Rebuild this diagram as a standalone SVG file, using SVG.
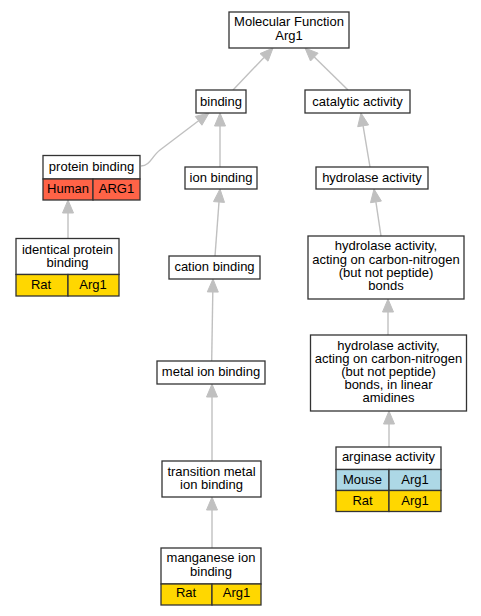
<svg xmlns="http://www.w3.org/2000/svg" width="481" height="616" viewBox="0 0 481 616">
<style>
.b{fill:#fff;stroke:#333;stroke-width:1.3}
.h{fill:#ff6347;stroke:#333;stroke-width:1.3}
.r{fill:#ffd700;stroke:#333;stroke-width:1.3}
.m{fill:#add8e6;stroke:#333;stroke-width:1.3}
text{font-family:"Liberation Sans",Arial,sans-serif;font-size:13px;text-anchor:middle;fill:#000}
.e line,.e path{stroke:#c0c0c0;stroke-width:1.4;fill:none}
.e polygon{fill:#c0c0c0;stroke:#c0c0c0;stroke-width:1}
</style>
<rect width="481" height="616" fill="#fff"/>
<g id="edges" class="e">
<line x1="233" y1="90" x2="264" y2="57.4"/><polygon points="273,48 268,61.2 260,53.6"/>
<line x1="348" y1="90" x2="314.3" y2="57.1"/><polygon points="305,48 318.1,53.2 310.5,61"/>
<path d="M141,166 C150,166 152,156 160,150 L198.6,120.8"/><polygon points="209,113 201.9,125.2 195.3,116.4"/>
<line x1="220" y1="167" x2="220" y2="126"/><polygon points="220,113 214.5,126 225.5,126"/>
<line x1="370" y1="167" x2="363.1" y2="125.8"/><polygon points="361,113 368.6,124.9 357.7,126.7"/>
<line x1="68" y1="238" x2="68" y2="213"/><polygon points="68,200 62.5,213 73.5,213"/>
<line x1="215" y1="256" x2="219" y2="202"/><polygon points="220,189 224.5,202.4 213.5,201.6"/>
<line x1="211.7" y1="361" x2="212.8" y2="292"/><polygon points="213,279 218.3,292.1 207.3,291.9"/>
<line x1="212" y1="461" x2="212" y2="397"/><polygon points="212,384 206.5,397 217.5,397"/>
<line x1="212" y1="548" x2="212" y2="510"/><polygon points="212,497 206.5,510 217.5,510"/>
<line x1="381" y1="236" x2="375.9" y2="201.9"/><polygon points="374,189 381.4,201.1 370.5,202.7"/>
<line x1="388" y1="335" x2="388" y2="312"/><polygon points="388,299 382.5,312 393.5,312"/>
<line x1="389" y1="447" x2="389" y2="424"/><polygon points="389,411 383.5,424 394.5,424"/>
</g>
<g id="n_mf"><rect class="b" x="229" y="12" width="120" height="36"/><text x="289" y="26">Molecular Function</text><text x="289" y="39.5">Arg1</text></g>
<g id="n_binding"><rect class="b" x="196" y="90" width="50" height="23"/><text x="221" y="106">binding</text></g>
<g id="n_catalytic"><rect class="b" x="305" y="90" width="105" height="23"/><text x="357.5" y="106">catalytic activity</text></g>
<g id="n_protein"><rect class="b" x="43" y="155.5" width="97" height="23.5"/><rect class="h" x="43" y="179" width="50" height="21"/><rect class="h" x="93" y="179" width="47" height="21"/><text x="91.5" y="170.5">protein binding</text><text x="68" y="192.5">Human</text><text x="116.5" y="192.5">ARG1</text></g>
<g id="n_ion"><rect class="b" x="185" y="167" width="72" height="22"/><text x="221" y="181.5">ion binding</text></g>
<g id="n_hydrolase"><rect class="b" x="316" y="167" width="112" height="22"/><text x="372" y="181.5">hydrolase activity</text></g>
<g id="n_identical"><rect class="b" x="16" y="238.5" width="103" height="36"/><rect class="r" x="16" y="274.5" width="52" height="21.5"/><rect class="r" x="68" y="274.5" width="51" height="21.5"/><text x="67.5" y="253.5">identical protein</text><text x="67.5" y="267">binding</text><text x="41" y="288.5">Rat</text><text x="93" y="288.5">Arg1</text></g>
<g id="n_cation"><rect class="b" x="169" y="256" width="91" height="23"/><text x="214.5" y="270.5">cation binding</text></g>
<g id="n_hbonds"><rect class="b" x="308" y="236" width="156" height="63"/><text x="386" y="250">hydrolase activity,</text><text x="386" y="263.5">acting on carbon-nitrogen</text><text x="386" y="277">(but not peptide)</text><text x="386" y="290">bonds</text></g>
<g id="n_metal"><rect class="b" x="157" y="361" width="108" height="23"/><text x="211" y="375.5">metal ion binding</text></g>
<g id="n_hlinear"><rect class="b" x="310.5" y="335" width="156" height="76"/><text x="388.5" y="349.5">hydrolase activity,</text><text x="388.5" y="362.5">acting on carbon-nitrogen</text><text x="388.5" y="375.5">(but not peptide)</text><text x="388.5" y="389">bonds, in linear</text><text x="388.5" y="402">amidines</text></g>
<g id="n_transition"><rect class="b" x="162" y="461" width="99" height="36"/><text x="211.5" y="475.5">transition metal</text><text x="211.5" y="489">ion binding</text></g>
<g id="n_manganese"><rect class="b" x="161" y="548" width="100" height="36"/><rect class="r" x="161" y="584" width="51" height="21"/><rect class="r" x="212" y="584" width="49" height="21"/><text x="211" y="562">manganese ion</text><text x="211" y="575.5">binding</text><text x="186" y="597">Rat</text><text x="236.5" y="597">Arg1</text></g>
<g id="n_arginase"><rect class="b" x="336" y="447" width="105" height="22.5"/><rect class="m" x="336" y="469.5" width="53" height="21"/><rect class="m" x="389" y="469.5" width="52" height="21"/><rect class="r" x="336" y="490.5" width="53" height="21"/><rect class="r" x="389" y="490.5" width="52" height="21"/><text x="388.5" y="461">arginase activity</text><text x="362.5" y="483.5">Mouse</text><text x="415" y="483.5">Arg1</text><text x="362.5" y="504.5">Rat</text><text x="415" y="504.5">Arg1</text></g>
</svg>
